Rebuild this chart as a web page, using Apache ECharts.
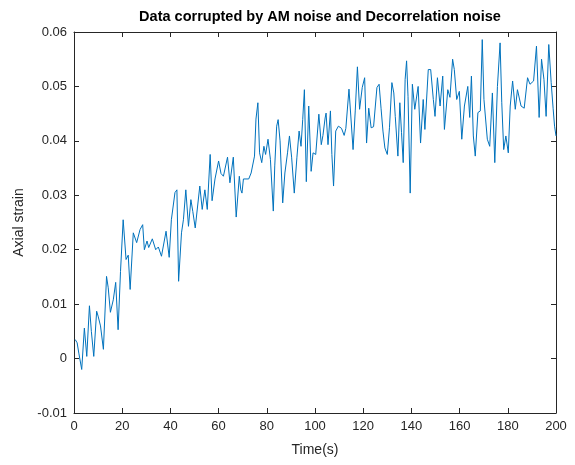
<!DOCTYPE html>
<html>
<head>
<meta charset="utf-8">
<script src="https://cdn.jsdelivr.net/npm/echarts@6/dist/echarts.min.js"></script>
<style>html,body{margin:0;padding:0;background:#fff;}#c{width:575px;height:465px;}</style>
</head>
<body>
<div id="c"></div>
<script>
var timeS = [0.5,1.3,2,3.2,4.3,5.3,6.4,7.2,8.2,9.4,10,11,12.2,13.5,14.2,15.1,16.3,17.3,18.3,19.3,20.4,21.6,22.5,23.3,24.6,26,27.4,28.5,29.2,30.3,31,32.5,33.9,35,36.3,38.2,39.5,40.4,41.9,42.7,43.4,44.6,45.4,46.4,47.5,48.5,49.3,50.3,52.2,53.2,54.3,55.3,56.5,57.3,58.5,60,61,62,63.7,64.7,66.1,67.3,68.6,69.2,69.7,70.3,72.5,73.5,74.9,75.5,76.3,77,77.9,78.8,79.5,80.5,81.5,82.7,83.3,84.1,84.7,85.5,86.6,87.5,88.6,89.4,90.3,91.4,92.5,93.4,94.2,94.9,95.6,96.4,97.4,98.4,99.2,100.3,101.6,102.6,103.3,104.2,104.6,105.4,106.4,107,107.7,108.6,109.7,111,112.1,112.8,114.1,115.8,116.7,117.6,118.5,119.6,120.6,121.4,122.3,123.3,124.3,125.7,126.6,127.4,128.2,129,130,130.9,131.9,132.7,133.3,134.4,135.2,135.9,136.6,137.4,138,138.6,139.5,140.4,141.4,142.8,143.8,144.9,145.6,147,148,149.1,149.8,150.8,151.9,153,153.7,155.1,156,157.1,157.8,158.8,159.9,160.9,162,163.4,164.2,164.9,165.7,166.5,167.6,168.6,169.4,170.1,171.5,172.5,173.6,174.6,175.7,176.8,177.5,178.3,179.2,180.2,181,182,183.1,184,185.5,186.8,188.2,189.2,190.7,191.9,193,194,195,195.9,197,198,198.8,199.4,200];
var axialStrain = [0.0035,0.0029,0.001,-0.002,0.0056,0.0004,0.0097,0.005,0.0004,0.0087,0.0078,0.006,0.0017,0.0151,0.013,0.0085,0.0108,0.014,0.0053,0.016,0.0255,0.0182,0.019,0.0127,0.0231,0.0213,0.0237,0.0246,0.020,0.0216,0.0204,0.022,0.020,0.0205,0.0188,0.0234,0.0186,0.0255,0.0305,0.031,0.0142,0.0231,0.0255,0.031,0.0243,0.0292,0.027,0.024,0.0317,0.0274,0.031,0.0274,0.0375,0.029,0.033,0.0363,0.034,0.0335,0.037,0.0323,0.037,0.026,0.0335,0.031,0.0304,0.033,0.033,0.0341,0.0372,0.044,0.047,0.0378,0.036,0.039,0.0375,0.0403,0.0366,0.0271,0.0354,0.0427,0.0439,0.040,0.0286,0.0341,0.0378,0.0409,0.037,0.0304,0.037,0.0418,0.039,0.0439,0.0494,0.0325,0.0464,0.0344,0.0378,0.0375,0.0449,0.0393,0.041,0.0442,0.0451,0.0393,0.0455,0.0375,0.0317,0.0418,0.0427,0.0423,0.041,0.0423,0.0495,0.0384,0.0455,0.0536,0.0458,0.0498,0.0516,0.0396,0.046,0.0424,0.0426,0.0498,0.0504,0.046,0.0418,0.0387,0.0375,0.0424,0.0507,0.0488,0.0445,0.0372,0.047,0.0415,0.036,0.0513,0.0547,0.0482,0.0304,0.0504,0.0458,0.050,0.0396,0.0476,0.0421,0.0531,0.0531,0.0476,0.0445,0.0516,0.0464,0.0519,0.0421,0.0494,0.048,0.055,0.0531,0.0476,0.0491,0.0403,0.0464,0.050,0.0443,0.0519,0.0409,0.0372,0.0452,0.0455,0.0586,0.0476,0.0403,0.039,0.0488,0.036,0.050,0.058,0.047,0.0384,0.0409,0.0378,0.0464,0.051,0.0458,0.0494,0.0464,0.046,0.0516,0.0504,0.051,0.0574,0.0443,0.055,0.0513,0.0445,0.0577,0.0507,0.046,0.0427,0.0409];
var xTicks = [0,20,40,60,80,100,120,140,160,180,200];
var yTicks = [-0.01,0,0.01,0.02,0.03,0.04,0.05,0.06];
var titleText = 'Data corrupted by AM noise and Decorrelation noise';
var xLabel = 'Time(s)';
var yLabel = 'Axial strain';

var pts = timeS.map(function(t,i){return [t, axialStrain[i]];});
var axisColor = '#262626';
var font = 'Liberation Sans, Arial, Helvetica, sans-serif';
function yFmt(v){ return String(Number(v.toFixed(2))); }

var chart = echarts.init(document.getElementById('c'));
chart.setOption({
  animation: false,
  backgroundColor: '#fff',
  title: {
    text: titleText, left: 315, top: 4, textAlign: 'center',
    textStyle: {fontFamily: font, fontSize: 14.5, fontWeight: 'bold', color: '#000'}
  },
  grid: {left: 74, right: 19, top: 32, bottom: 52, containLabel: false},
  xAxis: [{
    type: 'value', min: xTicks[0], max: xTicks[xTicks.length-1], interval: 20,
    name: xLabel, nameLocation: 'middle', nameGap: 30,
    nameTextStyle: {fontFamily: font, fontSize: 14, color: axisColor},
    axisLine: {show: true, onZero: false, lineStyle: {color: axisColor, width: 1}},
    axisTick: {show: true, inside: true, length: 5, lineStyle: {color: axisColor}},
    axisLabel: {fontFamily: font, fontSize: 13, color: axisColor, margin: 7},
    splitLine: {show: false}
  },{
    type: 'value', position: 'top', min: xTicks[0], max: xTicks[xTicks.length-1], interval: 20,
    axisLine: {show: true, onZero: false, lineStyle: {color: axisColor, width: 1}},
    axisTick: {show: true, inside: true, length: 5, lineStyle: {color: axisColor}},
    axisLabel: {show: false}, splitLine: {show: false}
  }],
  yAxis: [{
    type: 'value', min: yTicks[0], max: yTicks[yTicks.length-1], interval: 0.01,
    name: yLabel, nameLocation: 'middle', nameGap: 47, nameRotate: 90,
    nameTextStyle: {fontFamily: font, fontSize: 14, color: axisColor},
    axisLine: {show: true, onZero: false, lineStyle: {color: axisColor, width: 1}},
    axisTick: {show: true, inside: true, length: 5, lineStyle: {color: axisColor}},
    axisLabel: {fontFamily: font, fontSize: 13, color: axisColor, margin: 7, formatter: yFmt},
    splitLine: {show: false}
  },{
    type: 'value', position: 'right', min: yTicks[0], max: yTicks[yTicks.length-1], interval: 0.01,
    axisLine: {show: true, onZero: false, lineStyle: {color: axisColor, width: 1}},
    axisTick: {show: true, inside: true, length: 5, lineStyle: {color: axisColor}},
    axisLabel: {show: false}, splitLine: {show: false}
  }],
  series: [{
    type: 'line', data: pts, xAxisIndex: 0, yAxisIndex: 0,
    showSymbol: false, symbol: 'none',
    lineStyle: {color: '#0072BD', width: 1},
    itemStyle: {color: '#0072BD'}
  }]
});
</script>
</body>
</html>
